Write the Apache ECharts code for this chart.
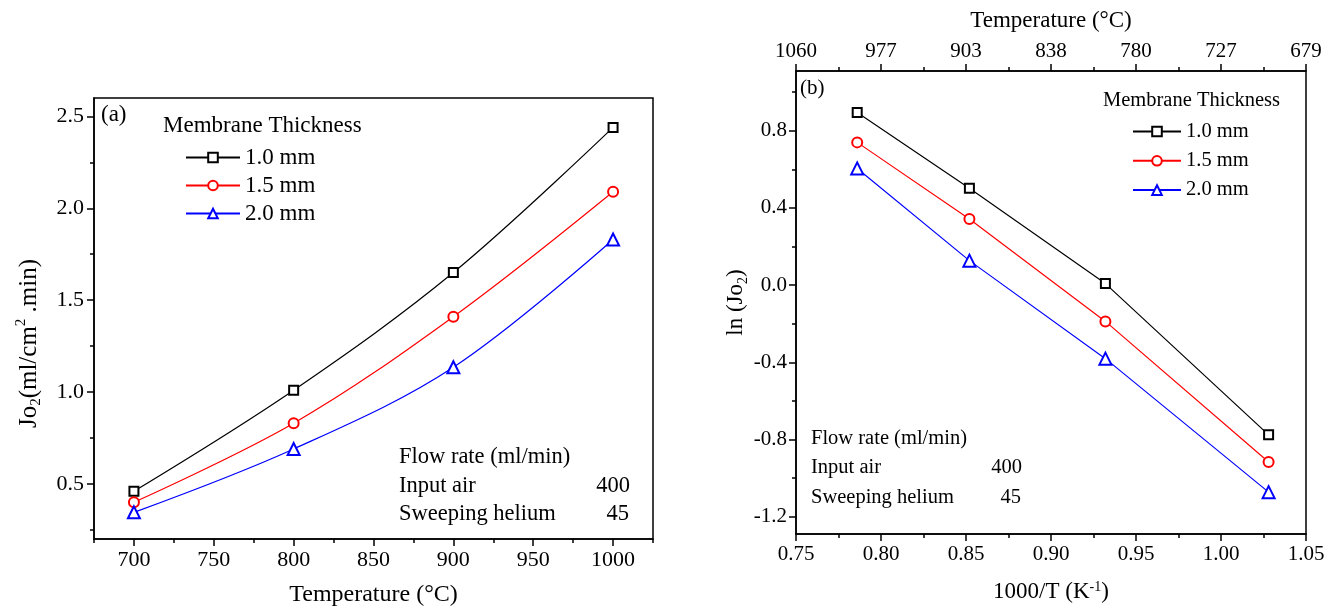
<!DOCTYPE html>
<html>
<head>
<meta charset="utf-8">
<script src="https://cdn.jsdelivr.net/npm/echarts@6/dist/echarts.min.js"></script>
<style>
  html, body { margin: 0; padding: 0; background: #fff; }
  #chart { width: 1338px; height: 608px; }
</style>
</head>
<body>
<div id="chart"></div>
<script>
// ---- (a) oxygen permeation flux vs temperature ----
const tempC = [700, 800, 900, 1000];
const jo2_10 = [0.46, 1.01, 1.65, 2.44];
const jo2_15 = [0.40, 0.83, 1.41, 2.09];
const jo2_20 = [0.345, 0.69, 1.135, 1.83];

// ---- (b) Arrhenius plot ----
const invT = [0.786, 0.852, 0.932, 1.028];
const lnJo2_10 = [0.895, 0.502, 0.008, -0.776];
const lnJo2_15 = [0.74, 0.343, -0.188, -0.917];
const lnJo2_20 = [0.605, 0.127, -0.381, -1.073];

const thickness = ['1.0 mm', '1.5 mm', '2.0 mm'];

// tick positions / labels
const tempTicks = [700, 750, 800, 850, 900, 950, 1000];
const tempMinorTicks = [675, 725, 775, 825, 875, 925, 975, 1025];
const jo2Ticks = [0.5, 1.0, 1.5, 2.0, 2.5];
const jo2MinorTicks = [0.25, 0.75, 1.25, 1.75, 2.25];
const lnTicks = [-1.2, -0.8, -0.4, 0.0, 0.4, 0.8];
const lnMinorTicks = [-1.0, -0.6, -0.2, 0.2, 0.6, 1.0];
const topTempLabels = ['1060', '977', '903', '838', '780', '727', '679'];

const FONT = 'Liberation Serif';
const BLACK = '#000';
const colors = ['#000000', '#ff0000', '#0000ff'];
const symbols = ['emptyRect', 'emptyCircle', 'emptyTriangle'];
const symbolSizes = [9, 10, 12];

const lineAx = { show: true, onZero: false, lineStyle: { color: BLACK, width: 1.5 } };

function minorOverlayX(gridIndex, min, max, ticks, position) {
  return {
    type: 'value', gridIndex, min, max, position, offset: 0,
    axisLine: { show: false, onZero: false },
    axisLabel: { show: false },
    splitLine: { show: false },
    axisTick: { show: true, length: 4, customValues: ticks, lineStyle: { color: BLACK, width: 1.5 } }
  };
}
function minorOverlayY(gridIndex, min, max, ticks) {
  return {
    type: 'value', gridIndex, min, max, position: 'left', offset: 0,
    axisLine: { show: false, onZero: false },
    axisLabel: { show: false },
    splitLine: { show: false },
    axisTick: { show: true, length: 4, customValues: ticks, lineStyle: { color: BLACK, width: 1.5 } }
  };
}

function pairs(xs, ys) { return xs.map((x, i) => [x, ys[i]]); }

const leftSeries = [jo2_10, jo2_15, jo2_20].map((ys, k) => ({
  name: thickness[k], type: 'line', xAxisIndex: 0, yAxisIndex: 0,
  data: pairs(tempC, ys), smooth: 0.35,
  symbol: symbols[k], symbolSize: symbolSizes[k],
  lineStyle: { color: colors[k], width: 1.2 },
  itemStyle: { color: colors[k], borderColor: colors[k], borderWidth: 2 },
  z: 5
}));
const rightSeries = [lnJo2_10, lnJo2_15, lnJo2_20].map((ys, k) => ({
  name: thickness[k], type: 'line', xAxisIndex: 2, yAxisIndex: 2,
  data: pairs(invT, ys),
  symbol: symbols[k], symbolSize: symbolSizes[k],
  lineStyle: { color: colors[k], width: 1.2 },
  itemStyle: { color: colors[k], borderColor: colors[k], borderWidth: 2 },
  z: 5
}));

function txt(text, x, y, size, align) {
  return {
    type: 'text', x, y, silent: true, z: 10,
    style: {
      text, fill: BLACK, font: size + 'px "' + FONT + '"',
      textAlign: align || 'left', align: align || 'left',
      textVerticalAlign: 'middle', verticalAlign: 'middle'
    }
  };
}

const option = {
  animation: false,
  backgroundColor: '#fff',
  textStyle: { fontFamily: FONT, color: BLACK },
  grid: [
    { left: 94, top: 98, width: 559, height: 441, outerBoundsMode: 'none', containLabel: false,
      show: true, borderColor: BLACK, borderWidth: 1.5, backgroundColor: 'transparent' },
    { left: 796, top: 71, width: 510, height: 463, outerBoundsMode: 'none', containLabel: false,
      show: true, borderColor: BLACK, borderWidth: 1.5, backgroundColor: 'transparent' }
  ],
  xAxis: [
    {
      type: 'value', gridIndex: 0, min: 675, max: 1025, position: 'bottom',
      axisLine: lineAx,
      axisTick: { show: true, length: 7, customValues: tempTicks, lineStyle: { color: BLACK, width: 1.5 } },
      axisLabel: { customValues: tempTicks, fontSize: 22, color: BLACK, fontFamily: FONT, margin: 10, formatter: v => String(v) },
      splitLine: { show: false },
      name: 'Temperature (°C)', nameLocation: 'middle', nameGap: 44,
      nameTextStyle: { fontSize: 24, color: BLACK, fontFamily: FONT }
    },
    minorOverlayX(0, 675, 1025, tempMinorTicks, 'bottom'),
    {
      type: 'value', gridIndex: 1, min: 0.75, max: 1.05, interval: 0.05, position: 'bottom',
      axisLine: lineAx,
      axisTick: { show: true, length: 7, lineStyle: { color: BLACK, width: 1.5 } },
      minorTick: { show: true, splitNumber: 2, length: 4, lineStyle: { color: BLACK, width: 1.5 } },
      axisLabel: { fontSize: 21, color: BLACK, fontFamily: FONT, margin: 10, formatter: v => v.toFixed(2) },
      splitLine: { show: false }, minorSplitLine: { show: false },
      name: '1000/T (K{p|-1})', nameLocation: 'middle', nameGap: 46,
      nameTextStyle: {
        fontSize: 23, color: BLACK, fontFamily: FONT,
        rich: { p: { fontSize: 14, fontFamily: FONT, color: BLACK, verticalAlign: 'top', lineHeight: 12 } }
      }
    },
    {
      type: 'value', gridIndex: 1, min: 0.75, max: 1.05, interval: 0.05, position: 'top',
      axisLine: lineAx,
      axisTick: { show: true, length: 7, lineStyle: { color: BLACK, width: 1.5 } },
      minorTick: { show: true, splitNumber: 2, length: 4, lineStyle: { color: BLACK, width: 1.5 } },
      axisLabel: { fontSize: 21, color: BLACK, fontFamily: FONT, margin: 9, formatter: (v, i) => topTempLabels[i] },
      splitLine: { show: false }, minorSplitLine: { show: false },
      name: 'Temperature (°C)', nameLocation: 'middle', nameGap: 39,
      nameTextStyle: { fontSize: 23, color: BLACK, fontFamily: FONT }
    }
  ],
  yAxis: [
    {
      type: 'value', gridIndex: 0, min: 0.2, max: 2.6, position: 'left',
      axisLine: lineAx,
      axisTick: { show: true, length: 7, customValues: jo2Ticks, lineStyle: { color: BLACK, width: 1.5 } },
      axisLabel: { customValues: jo2Ticks, fontSize: 22, color: BLACK, fontFamily: FONT, margin: 10, formatter: v => v.toFixed(1) },
      splitLine: { show: false },
      name: '{t|Jo}{b|2}{t|(ml/cm}{p|2}{t| .min)}', nameLocation: 'middle', nameGap: 50,
      nameTextStyle: {
        color: BLACK, fontFamily: FONT,
        padding: [0, 50, 0, 0],
        rich: {
          t: { fontSize: 25, fontFamily: FONT, color: BLACK, lineHeight: 30, verticalAlign: 'middle' },
          b: { fontSize: 15, fontFamily: FONT, color: BLACK, lineHeight: 14, verticalAlign: 'bottom' },
          p: { fontSize: 15, fontFamily: FONT, color: BLACK, lineHeight: 14, verticalAlign: 'top' }
        }
      }
    },
    minorOverlayY(0, 0.2, 2.6, jo2MinorTicks),
    {
      type: 'value', gridIndex: 1, min: -1.29, max: 1.11, position: 'left',
      axisLine: lineAx,
      axisTick: { show: true, length: 7, customValues: lnTicks, lineStyle: { color: BLACK, width: 1.5 } },
      axisLabel: { customValues: lnTicks, fontSize: 21, color: BLACK, fontFamily: FONT, margin: 9, formatter: v => v.toFixed(1) },
      splitLine: { show: false },
      name: '{t|ln (Jo}{b|2}{t|)}', nameLocation: 'middle', nameGap: 46,
      nameTextStyle: {
        color: BLACK, fontFamily: FONT,
        rich: {
          t: { fontSize: 23, fontFamily: FONT, color: BLACK, lineHeight: 28, verticalAlign: 'middle' },
          b: { fontSize: 14, fontFamily: FONT, color: BLACK, lineHeight: 13, verticalAlign: 'bottom' }
        }
      }
    },
    minorOverlayY(1, -1.29, 1.11, lnMinorTicks)
  ],
  legend: [
    {
      data: thickness, orient: 'vertical', left: 185, top: 146, padding: 0,
      itemWidth: 54, itemHeight: 12, itemGap: 5, selectedMode: false,
      textStyle: { fontSize: 23, fontFamily: FONT, color: BLACK, lineHeight: 23 }
    },
    {
      data: thickness, orient: 'vertical', left: 1132, top: 121, padding: 0,
      itemWidth: 48, itemHeight: 12, itemGap: 8.3, selectedMode: false,
      textStyle: { fontSize: 20.5, fontFamily: FONT, color: BLACK, lineHeight: 21 }
    }
  ],
  graphic: [
    txt('(a)', 101, 115, 23),
    txt('Membrane Thickness', 163, 126, 23),
    txt('Flow rate (ml/min)', 399, 457, 22.5),
    txt('Input air', 399, 486, 22.5),
    txt('400', 630, 486, 22.5, 'right'),
    txt('Sweeping helium', 399, 514, 22.5),
    txt('45', 629, 514, 22.5, 'right'),
    txt('(b)', 800, 88, 21),
    txt('Membrane Thickness', 1103, 101, 20.5),
    txt('Flow rate (ml/min)', 811, 439, 20.5),
    txt('Input air', 811, 468, 20.5),
    txt('400', 1022, 468, 20.5, 'right'),
    txt('Sweeping helium', 811, 498, 20.5),
    txt('45', 1021, 498, 20.5, 'right')
  ],
  series: leftSeries.concat(rightSeries)
};

const chart = echarts.init(document.getElementById('chart'), null, { renderer: 'canvas' });
chart.setOption(option);
</script>
</body>
</html>
